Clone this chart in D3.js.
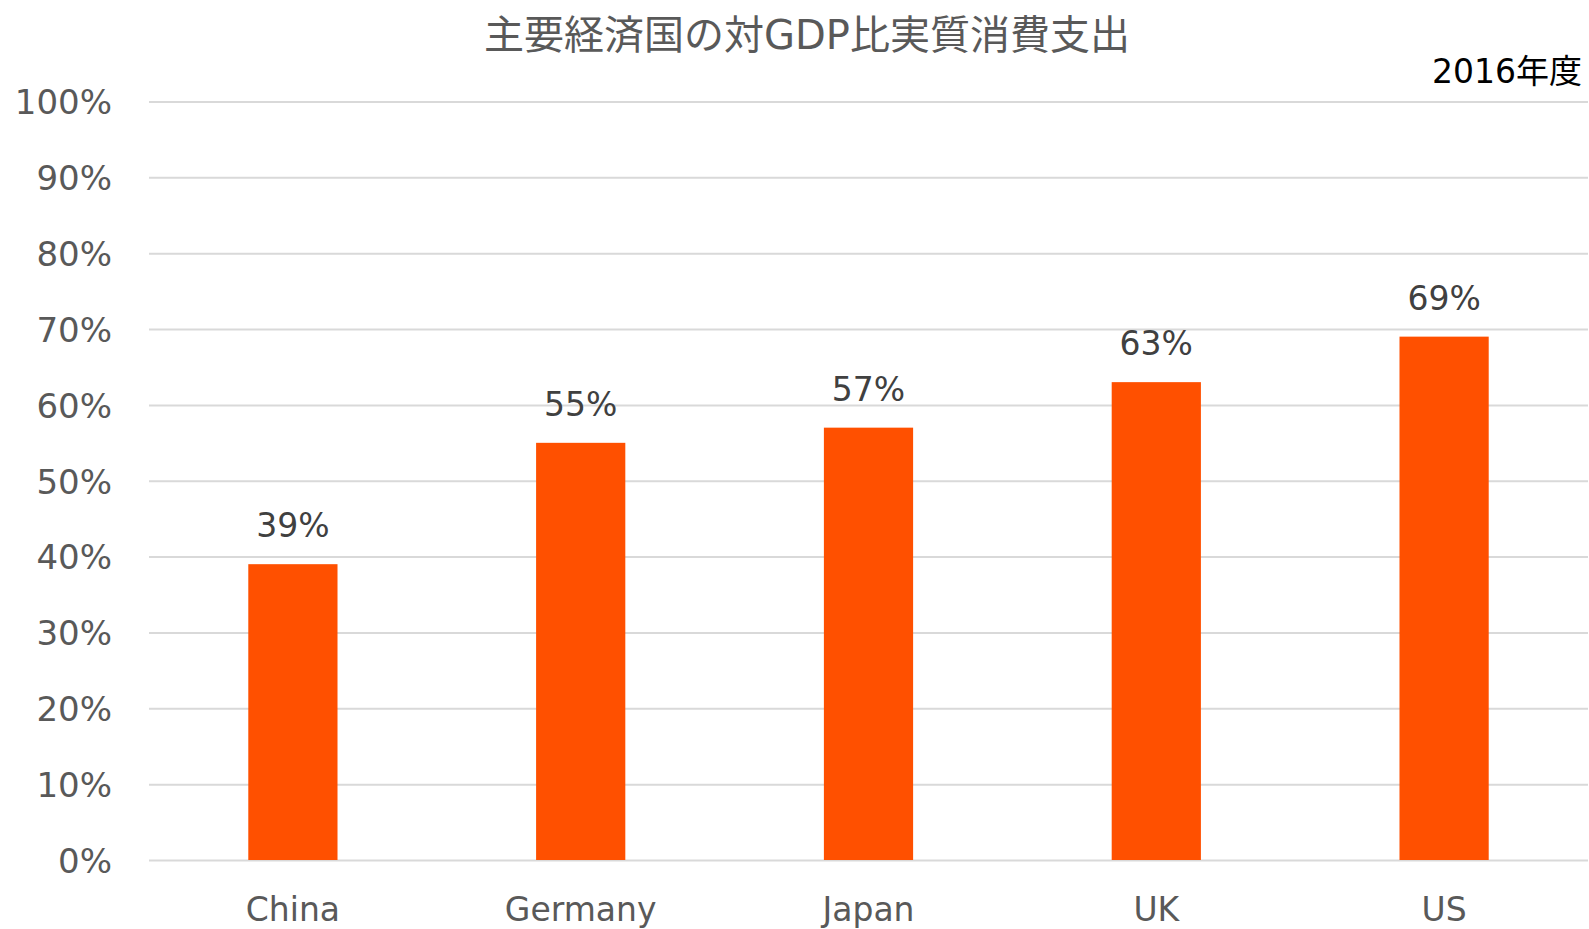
<!DOCTYPE html>
<html>
<head>
<meta charset="utf-8">
<script src="https://cdn.jsdelivr.net/npm/d3@7"></script>
<style>
  body { margin: 0; background: #fff; }
  text { font-family: "DejaVu Sans", "Noto Sans CJK JP", sans-serif; }
</style>
</head>
<body>
<script>
// data
var categories = ["China", "Germany", "Japan", "UK", "US"];
var values = [0.39, 0.55, 0.57, 0.63, 0.69];
var yTicks = [0, 0.1, 0.2, 0.3, 0.4, 0.5, 0.6, 0.7, 0.8, 0.9, 1.0];
var title = "主要経済国の対GDP比実質消費支出";
var subtitle = "2016年度";

var width = 1589, height = 929;
// plot area (window.top is reserved, so prefix these)
var plotLeft = 149, plotRight = 1588, plotTop = 101.5, plotBottom = 860;

var svg = d3.select("body").append("svg")
    .attr("width", width)
    .attr("height", height);

var x = d3.scaleBand()
    .domain(categories)
    .range([plotLeft, plotRight])
    .paddingInner(0.69)
    .paddingOuter(0.345);

var y = d3.scaleLinear()
    .domain([0, 1])
    .range([plotBottom, plotTop]);

// gridlines
var grid = svg.append("g")
    .attr("transform", "translate(" + plotLeft + ",0)")
    .call(d3.axisRight(y).tickValues(yTicks).tickSize(plotRight - plotLeft).tickFormat(""));
grid.select(".domain").remove();
grid.selectAll("line")
    .style("stroke", "#d9d9d9")
    .style("stroke-width", 2);

// y tick labels
var yAxis = svg.append("g")
    .attr("transform", "translate(112,0)")
    .call(d3.axisLeft(y).tickValues(yTicks).tickSize(0).tickPadding(0).tickFormat(d3.format(".0%")));
yAxis.select(".domain").remove();
yAxis.selectAll("text")
    .style("font-size", "34px")
    .style("fill", "#595959")
    .attr("dy", "0.36em");

// bars
svg.append("g").selectAll("rect")
    .data(values)
    .enter().append("rect")
    .attr("x", function (d, i) { return x(categories[i]); })
    .attr("y", function (d) { return y(d); })
    .attr("width", x.bandwidth())
    .attr("height", function (d) { return y(0) - y(d); })
    .style("fill", "#ff5000");

// data labels
svg.append("g").selectAll("text")
    .data(values)
    .enter().append("text")
    .attr("x", function (d, i) { return x(categories[i]) + x.bandwidth() / 2; })
    .attr("y", function (d) { return y(d) - 27; })
    .attr("text-anchor", "middle")
    .style("font-size", "33px")
    .style("fill", "#404040")
    .text(function (d) { return d3.format(".0%")(d); });

// x axis labels
var xAxis = svg.append("g")
    .attr("transform", "translate(0," + plotBottom + ")")
    .call(d3.axisBottom(x).tickSize(0).tickPadding(0));
xAxis.select(".domain").remove();
xAxis.selectAll("text")
    .attr("y", 61)
    .attr("dy", 0)
    .style("font-size", "33px")
    .style("fill", "#595959");

// title
svg.append("text")
    .attr("x", 807)
    .attr("y", 49)
    .attr("text-anchor", "middle")
    .style("font-size", "40px")
    .style("fill", "#595959")
    .text(title);

svg.append("text")
    .attr("x", 1582)
    .attr("y", 83)
    .attr("text-anchor", "end")
    .style("font-size", "33px")
    .style("fill", "#000")
    .text(subtitle);
</script>
</body>
</html>
